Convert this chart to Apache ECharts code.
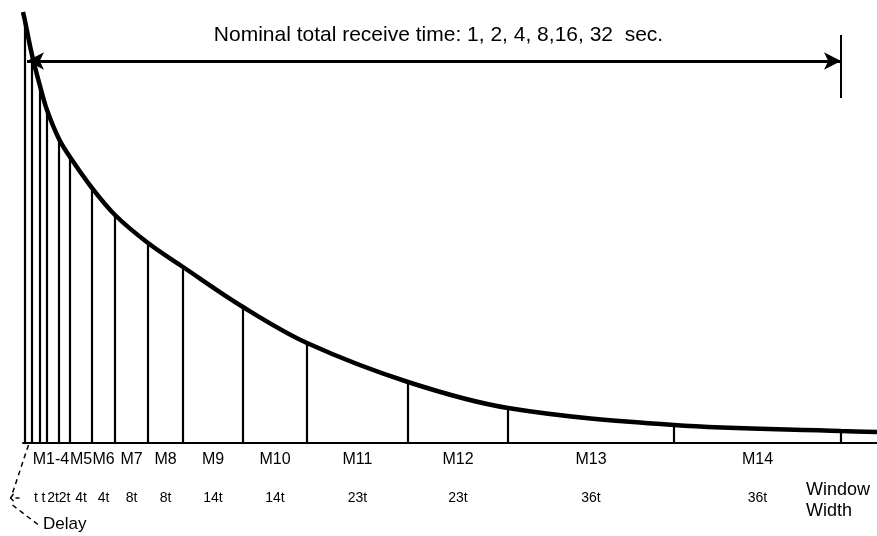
<!DOCTYPE html>
<html>
<head>
<meta charset="utf-8">
<title>Gate windows</title>
<script src="https://cdn.jsdelivr.net/npm/echarts@6/dist/echarts.min.js"></script>
<style>
  html, body { margin: 0; padding: 0; background: #fff; }
  #container { width: 877px; height: 536px; }
</style>
</head>
<body>
<div id="container"></div>
<script>
  // gate boundaries along the time axis (drawing units) and the decay value at each one
  const boundaries = [2, 9, 17, 24, 36, 47, 69, 92, 125, 160, 220, 284, 385, 485, 651, 818]
  const heights = [422, 388, 357, 333, 304, 286, 255, 228, 200, 176, 136, 100, 61, 35, 18, 12]
  // decay curve ends
  const curveStart = [0, 431]
  const curveEnd = [854, 11]
  // width of each gate after the delay gate
  const widthLabels = ['t', 't', '2t', '2t', '4t', '4t', '8t', '8t', '14t', '14t', '23t', '23t', '36t', '36t']
  // channels, given as first and last gate index
  const channelNames = ['M1-4', 'M5', 'M6', 'M7', 'M8', 'M9', 'M10', 'M11', 'M12', 'M13', 'M14']
  const channelFirstGate = [1, 5, 6, 7, 8, 9, 10, 11, 12, 13, 14]
  const channelLastGate = [4, 5, 6, 7, 8, 9, 10, 11, 12, 13, 14]
  const titleText = 'Nominal total receive time: 1, 2, 4, 8,16, 32  sec.'

  const FONT = '"Liberation Sans", Arial, Helvetica, sans-serif'
  const arrowLevel = 382

  const curveData = [curveStart].concat(boundaries.map((x, i) => [x, heights[i]])).concat([curveEnd])
  const gateCenter = (i) => (boundaries[i] + boundaries[i + 1]) / 2

  const myChart = echarts.init(document.getElementById('container'))

  const option = {
    animation: false,
    backgroundColor: '#fff',
    title: {
      text: titleText,
      left: 'center',
      top: 25,
      padding: 0,
      textStyle: { fontFamily: FONT, fontSize: 21, fontWeight: 'normal', color: '#000' }
    },
    grid: { left: 23, right: 0, top: 12, bottom: 93 },
    xAxis: {
      type: 'value',
      min: 0,
      max: 854,
      axisLine: { show: true, lineStyle: { color: '#000', width: 2 } },
      axisTick: { show: false },
      axisLabel: { show: false },
      splitLine: { show: false }
    },
    yAxis: {
      type: 'value',
      min: 0,
      max: 431,
      show: false
    },
    series: [
      {
        // vertical gate lines, from the base up to the curve
        type: 'custom',
        clip: false,
        data: boundaries.map((x, i) => [x, heights[i]]),
        renderItem: function (params, api) {
          const p0 = api.coord([api.value(0), 0])
          const p1 = api.coord([api.value(0), api.value(1)])
          return {
            type: 'line',
            shape: { x1: p0[0], y1: p0[1], x2: p1[0], y2: p1[1] },
            style: { stroke: '#000', lineWidth: 2.2 }
          }
        },
        z: 2
      },
      {
        // decay curve
        type: 'line',
        data: curveData,
        smooth: 0.35,
        showSymbol: false,
        lineStyle: { color: '#000', width: 4.5 },
        z: 3,
        markLine: {
          silent: true,
          animation: false,
          label: { show: false },
          symbol: ['arrow', 'arrow'],
          symbolSize: [13, 17],
          lineStyle: { color: '#000', width: 3, type: 'solid' },
          data: [
            [{ coord: [boundaries[0] + 2, arrowLevel] }, { coord: [boundaries[boundaries.length - 1], arrowLevel] }],
            [
              { coord: [boundaries[boundaries.length - 1], 408], symbol: 'none', lineStyle: { width: 2 } },
              { coord: [boundaries[boundaries.length - 1], 345], symbol: 'none' }
            ]
          ]
        }
      },
      {
        // channel names and gate widths below the base line
        type: 'custom',
        clip: false,
        data: [0],
        renderItem: function (params, api) {
          const base = api.coord([0, 0])[1]
          const children = []
          channelNames.forEach((name, k) => {
            const cx = (boundaries[channelFirstGate[k]] + boundaries[channelLastGate[k] + 1]) / 2
            children.push({
              type: 'text',
              x: api.coord([cx, 0])[0],
              y: base + 17,
              style: { text: name, fill: '#000', font: '16px ' + FONT, align: 'center', verticalAlign: 'middle' }
            })
          })
          widthLabels.forEach((w, k) => {
            children.push({
              type: 'text',
              x: api.coord([gateCenter(k + 1), 0])[0],
              y: base + 55,
              style: { text: w, fill: '#000', font: '14px ' + FONT, align: 'center', verticalAlign: 'middle' }
            })
          })
          return { type: 'group', children: children }
        }
      }
    ]
  }
  myChart.setOption(option)

  // delay bracket and "Window Width" note
  const d = myChart.convertToPixel({ gridIndex: 0 }, [gateCenter(0), 0])
  myChart.setOption({
    graphic: [
      {
        type: 'polyline',
        shape: { points: [[d[0], d[1] + 2], [d[0] - 16, d[1] + 50]] },
        style: { stroke: '#000', lineWidth: 1.5, lineDash: [5, 4], fill: null }
      },
      {
        type: 'polyline',
        shape: { points: [[d[0] - 15, d[1] + 51], [d[0] - 18, d[1] + 55], [d[0] - 15, d[1] + 58]] },
        style: { stroke: '#000', lineWidth: 1.5, fill: null }
      },
      {
        type: 'line',
        shape: { x1: d[0] - 13, y1: d[1] + 55, x2: d[0] - 9, y2: d[1] + 55 },
        style: { stroke: '#000', lineWidth: 1.5 }
      },
      {
        type: 'polyline',
        shape: { points: [[d[0] - 16, d[1] + 62], [d[0] + 10, d[1] + 82]] },
        style: { stroke: '#000', lineWidth: 1.5, lineDash: [5, 4], fill: null }
      },
      {
        type: 'text',
        left: 43,
        top: 516,
        style: { text: 'Delay', fill: '#000', font: '17px ' + FONT }
      },
      {
        type: 'text',
        left: 806,
        top: 480,
        style: { text: 'Window\nWidth', fill: '#000', font: '18px ' + FONT, lineHeight: 21 }
      }
    ]
  })

  window.addEventListener('resize', () => myChart.resize())
</script>
</body>
</html>
